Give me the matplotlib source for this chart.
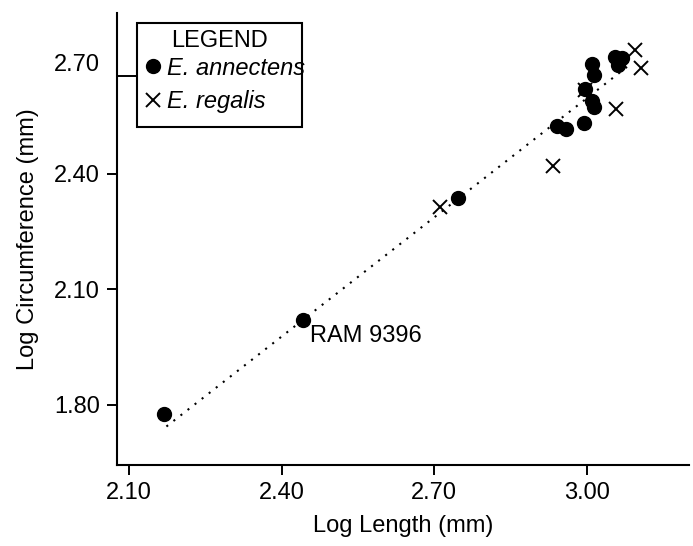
import matplotlib
matplotlib.use("Agg")
import matplotlib.pyplot as plt
from matplotlib.ticker import FixedLocator, NullFormatter
from matplotlib.patches import Rectangle
import numpy as np

plt.rcParams['font.family'] = ['Liberation Sans', 'DejaVu Sans']

# values
annectens_x = [2.168, 2.441, 2.747, 2.941, 2.959, 2.995, 3.011, 3.014,
               2.996, 3.010, 3.014, 3.056, 3.069, 3.061]
annectens_y = [1.777, 2.021, 2.338, 2.525, 2.516, 2.533, 2.590, 2.575,
               2.620, 2.686, 2.657, 2.705, 2.700, 2.683]
regalis_x = [2.711, 2.934, 3.057, 3.095, 3.107, 2.996]
regalis_y = [2.315, 2.421, 2.568, 2.723, 2.676, 2.619]

# regression line (dotted)
fit_x = [2.173, 3.083]
fit_slope = 1.031
fit_intercept = 1.744 - 1.031 * 2.173

xtick_pos = [2.10, 2.40, 2.70, 3.00]
xtick_labels = ["2.10", "2.40", "2.70", "3.00"]
ytick_pos = [1.80, 2.10, 2.40, 2.69]
ytick_labels = ["1.80", "2.10", "2.40", "2.70"]

fs = 17
W, H = 693, 546

fig = plt.figure(figsize=(W/100, H/100), dpi=100)
ax = fig.add_axes([117/W, 1-465/H, (689-117)/W, (465-13)/H])

fx = np.array(fit_x)
ax.plot(fx, fit_intercept + fit_slope*fx, color='black', lw=1.5,
        linestyle=(0, (1, 3.3)), zorder=1)

ax.plot(regalis_x, regalis_y, linestyle='none', marker='x', ms=10.5,
        mew=1.4, color='black', label='E. regalis', zorder=2)
ax.plot(annectens_x, annectens_y, linestyle='none', marker='o', ms=10,
        color='black', label='E. annectens', zorder=3)

ax.annotate('RAM 9396', xy=(annectens_x[1], annectens_y[1]),
            xytext=(5, -15.6), textcoords='offset points',
            ha='left', va='baseline', fontsize=fs)

ax.set_xlim(2.0758, 3.201)
ax.set_ylim(1.644, 2.818)

ax.set_xticks(xtick_pos)
ax.set_xticklabels(xtick_labels)
ax.set_yticks(ytick_pos)
ax.set_yticklabels(ytick_labels)
ax.yaxis.set_minor_locator(FixedLocator([2.655]))
ax.yaxis.set_minor_formatter(NullFormatter())

ax.tick_params(axis='both', which='major', direction='out', length=7.2,
               width=1.4, labelsize=fs, pad=5)
ax.tick_params(axis='y', which='minor', direction='in', length=14.4,
               width=1.4)
ax.yaxis.get_major_ticks()[3].tick1line.set_visible(False)

for side in ['top', 'right']:
    ax.spines[side].set_visible(False)
for side in ['left', 'bottom']:
    ax.spines[side].set_linewidth(1.5)

ax.set_xlabel('Log Length (mm)', fontsize=fs, labelpad=8)
ax.set_ylabel('Log Circumference (mm)', fontsize=fs, labelpad=11)

# legend: box, title and entries
fig.patches.append(Rectangle((137/W, 1-126.7/H), 165/W, 104/H, fill=False,
                             lw=1.5, edgecolor='black',
                             transform=fig.transFigure, figure=fig))
fig.text(219.5/W, 1-47/H, 'LEGEND', fontsize=fs, ha='center', va='baseline')

handles, labels = ax.get_legend_handles_labels()
leg = ax.legend(handles[::-1], labels[::-1],
                loc='center left', bbox_to_anchor=(143.6/W, 1-85/H),
                bbox_transform=fig.transFigure, borderaxespad=0,
                prop={'style': 'italic', 'size': fs}, frameon=False,
                handlelength=0.8, handletextpad=0.2,
                borderpad=0, labelspacing=0.46)

fig.savefig('out.png', dpi=100)
